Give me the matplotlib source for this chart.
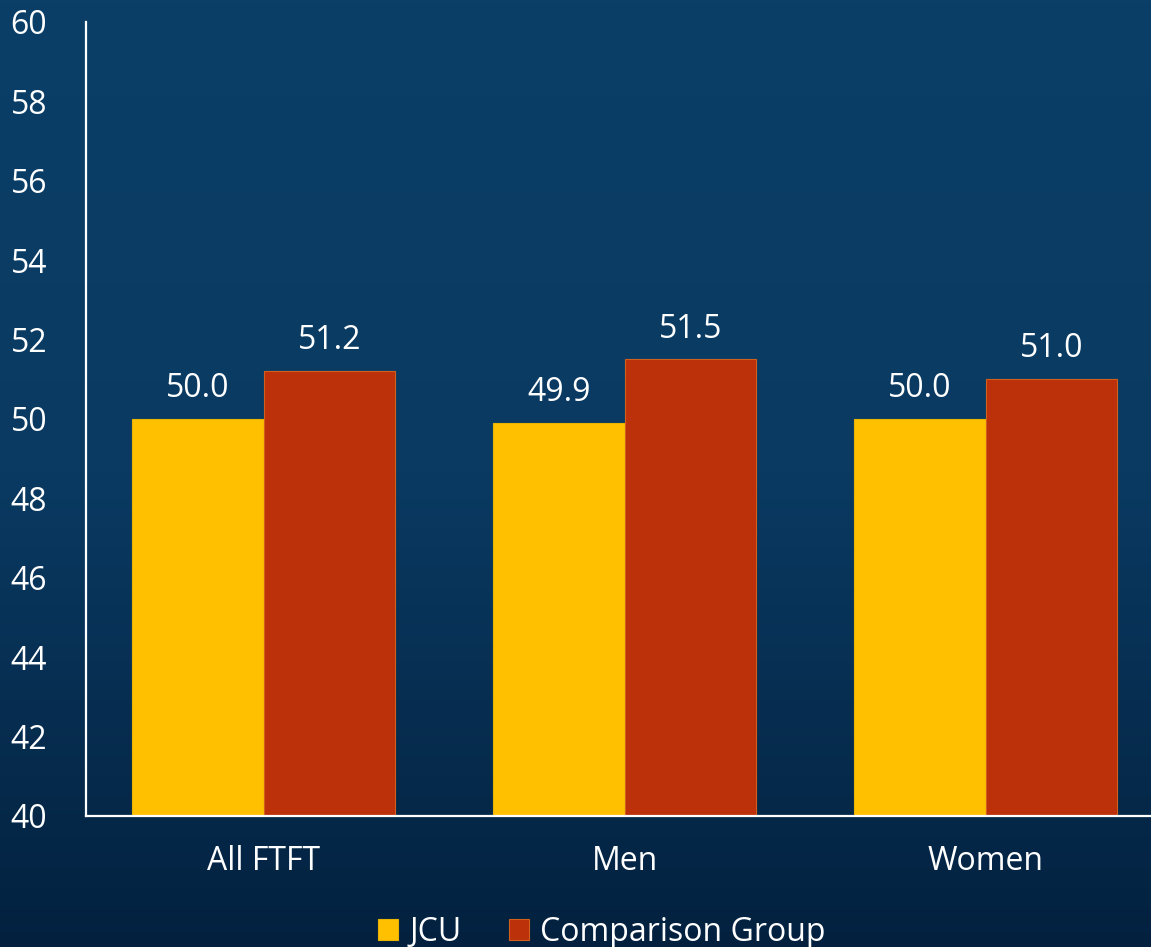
import numpy as np
import matplotlib
matplotlib.use("Agg")
import matplotlib.pyplot as plt
from matplotlib.colors import LinearSegmentedColormap

plt.rcParams['font.family'] = ['Open Sans', 'DejaVu Sans']

categories = ["All FTFT", "Men", "Women"]
jcu = [50.0, 49.9, 50.0]
comparison = [51.2, 51.5, 51.0]
series_names = ["JCU", "Comparison Group"]

W, H = 1151, 947
fig = plt.figure(figsize=(W / 100, H / 100), dpi=100)

# background gradient
bg = fig.add_axes([0, 0, 1, 1])
cmap = LinearSegmentedColormap.from_list("bg", ["#0b3f67", "#0a3a62", "#03213f"])
grad = np.linspace(0, 1, 256).reshape(-1, 1)
bg.imshow(grad, aspect='auto', cmap=cmap, extent=[0, 1, 0, 1])
bg.axis('off')

x0, x1 = 86 / W, 1169 / W
y0, y1 = 1 - 816 / H, 1 - 22 / H
ax = fig.add_axes([x0, y0, x1 - x0, y1 - y0])
ax.patch.set_alpha(0)

x = np.arange(len(categories))
w = 0.364
b1 = ax.bar(x - w / 2, jcu, w, color="#FFC000", edgecolor="#e8b400",
            linewidth=0.8, label=series_names[0])
b2 = ax.bar(x + w / 2, comparison, w, color="#BC300A", edgecolor="#d0601c",
            linewidth=0.8, label=series_names[1])

for bars, vals in ((b1, jcu), (b2, comparison)):
    for r, v in zip(bars, vals):
        ax.annotate(f"{v:.1f}", (r.get_x() + r.get_width() / 2, v),
                    xytext=(0, 10), textcoords="offset points",
                    ha="center", va="bottom", color="white", fontsize=23)

ax.set_xlim(-0.492, 2.508)
ax.set_ylim(40, 60)
ax.set_yticks(np.arange(40, 61, 2))
ax.set_xticks(x)
ax.set_xticklabels(categories)
ax.tick_params(axis='y', length=0, pad=28, labelsize=23, labelcolor="white")
ax.tick_params(axis='x', length=0, pad=21, labelsize=23, labelcolor="white")

for s in ("top", "right"):
    ax.spines[s].set_visible(False)
for s in ("left", "bottom"):
    ax.spines[s].set_color("white")
    ax.spines[s].set_linewidth(1.6)

leg = fig.legend(loc="center", bbox_to_anchor=(602 / W, 1 - 932 / H), ncol=2,
                 frameon=False, fontsize=23, labelcolor="white",
                 handlelength=0.62, handleheight=0.62, handletextpad=0.35,
                 columnspacing=1.5)

fig.savefig("out.png", dpi=100)
